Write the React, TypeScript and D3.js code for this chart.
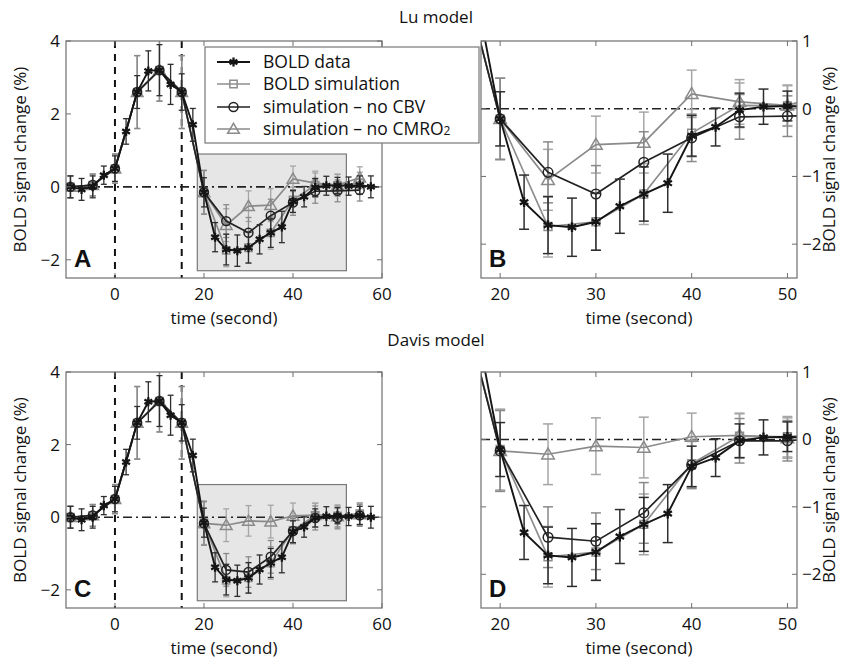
import React from "react";
import * as d3 from "d3";

// BOLD data, sampled every 2.5 s
const dataTimes = [-10, -7.5, -5, -2.5, 0, 2.5, 5, 7.5, 10, 12.5, 15, 17.5, 20, 22.5, 25, 27.5, 30, 32.5, 35, 37.5, 40, 42.5, 45, 47.5, 50, 52.5, 55, 57.5];
const boldData = [0.0, -0.07, 0.0, 0.32, 0.5, 1.52, 2.6, 3.18, 3.2, 2.81, 2.6, 1.7, -0.15, -1.38, -1.72, -1.75, -1.67, -1.44, -1.26, -1.1, -0.4, -0.27, -0.02, 0.03, 0.04, 0.02, 0.05, 0.0];
const boldDataErr = [0.3, 0.3, 0.3, 0.25, 0.35, 0.35, 0.45, 0.55, 0.7, 0.55, 0.5, 0.45, 0.4, 0.4, 0.42, 0.43, 0.42, 0.4, 0.4, 0.43, 0.3, 0.28, 0.25, 0.26, 0.22, 0.25, 0.25, 0.3];

// simulations, sampled every 5 s
const simTimes = [-10, -5, 0, 5, 10, 15, 20, 25, 30, 35, 40, 45, 50, 55];
const boldSim = [0.0, 0.05, 0.5, 2.6, 3.2, 2.6, -0.15, -1.74, -1.67, -1.26, -0.36, 0.05, 0.04, 0.1];
const simErr = [0.3, 0.3, 0.4, 1.0, 0.85, 1.0, 0.6, 0.45, 0.42, 0.45, 0.35, 0.33, 0.3, 0.3];
const luNoCbv = [0.0, 0.05, 0.5, 2.6, 3.2, 2.6, -0.15, -0.94, -1.26, -0.79, -0.43, -0.12, -0.11, -0.09];
const luNoCmro = [0.0, 0.05, 0.5, 2.6, 3.2, 2.6, -0.15, -1.05, -0.53, -0.5, 0.22, 0.1, 0.05, 0.25];
const davisNoCbv = [0.0, 0.05, 0.5, 2.6, 3.2, 2.6, -0.17, -1.45, -1.51, -1.09, -0.38, -0.02, -0.02, 0.05];
const davisNoCmro = [0.0, 0.05, 0.5, 2.6, 3.2, 2.6, -0.17, -0.22, -0.1, -0.12, 0.04, 0.06, 0.02, 0.08];

const fullX = [-11, 60];
const fullY = [-2.5, 4];
const fullXTicks = [0, 20, 40, 60];
const fullYTicks = [-2, 0, 2, 4];
const zoomX = [18, 51];
const zoomY = [-2.5, 1];
const zoomXTicks = [20, 30, 40, 50];
const zoomYTicks = [-2, -1, 0, 1];
const stimLines = [0, 15];
const zoomBox = [18.5, 52, -2.3, 0.9];

const legendLabels = ["BOLD data", "BOLD simulation", "simulation \u2013 no CBV", "simulation \u2013 no CMRO"];

const FONT = "'Open Sans', 'Noto Sans', sans-serif";
const INK = "#111";
const starType = (d3 as any).symbolAsterisk || d3.symbolStar;

type Series = {
  times: number[];
  values: number[];
  err: number[];
  color: string;
  errColor: string;
  marker: string;
  width: number;
};

const markerPath = (kind: string, big: boolean) => {
  const k = big ? 1.1 : 0.95;
  if (kind === "square") return d3.symbol().type(d3.symbolSquare).size(56 * k)()!;
  if (kind === "circle") return d3.symbol().type(d3.symbolCircle).size(66 * k)()!;
  if (kind === "triangle") return d3.symbol().type(d3.symbolTriangle).size(62 * k)()!;
  return d3.symbol().type(starType).size(60 * k)()!;
};

const Marker = ({ kind, x, y, color, big }: any) => (
  <path
    d={markerPath(kind, big)}
    transform={`translate(${x},${kind === "triangle" ? y + 1 : y})`}
    fill="none"
    stroke={color}
    strokeWidth={kind === "star" ? 2.3 : 1.5}
  />
);

const makeSeries = (noCbv: number[], noCmro: number[]): Series[] => [
  { times: simTimes, values: boldSim, err: simErr, color: "#8e8e8e", errColor: "#a6a6a6", marker: "square", width: 1.7 },
  { times: simTimes, values: noCmro, err: simErr, color: "#8a8a8a", errColor: "#a6a6a6", marker: "triangle", width: 1.7 },
  { times: simTimes, values: noCbv, err: simErr, color: "#222", errColor: "#8a8a8a", marker: "circle", width: 1.7 },
  { times: dataTimes, values: boldData, err: boldDataErr, color: "#151515", errColor: "#2e2e2e", marker: "star", width: 1.9 },
];

const Panel = ({ id, left, top, width, height, zoomed, series, letter }: any) => {
  const x = d3.scaleLinear().domain(zoomed ? zoomX : fullX).range([left, left + width]);
  const y = d3.scaleLinear().domain(zoomed ? zoomY : fullY).range([top + height, top]);
  const xTicks = zoomed ? zoomXTicks : fullXTicks;
  const yTicks = zoomed ? zoomYTicks : fullYTicks;
  const cap = zoomed ? 5 : 3;
  const tick = 5;
  const frame = "#6e6e6e";
  return (
    <g>
      <defs>
        <clipPath id={id}>
          <rect x={left} y={top} width={width} height={height} />
        </clipPath>
      </defs>
      <g clipPath={`url(#${id})`}>
        {!zoomed && (
          <rect
            x={x(zoomBox[0])}
            y={y(zoomBox[3])}
            width={x(zoomBox[1]) - x(zoomBox[0])}
            height={y(zoomBox[2]) - y(zoomBox[3])}
            fill="#e6e6e6"
            stroke="#7a7a7a"
            strokeWidth={1.2}
          />
        )}
        {!zoomed &&
          stimLines.map((t) => (
            <line key={t} x1={x(t)} x2={x(t)} y1={top} y2={top + height} stroke="#111" strokeWidth={2} strokeDasharray="7,6" />
          ))}
        <line x1={left} x2={left + width} y1={y(0)} y2={y(0)} stroke="#222" strokeWidth={1.6} strokeDasharray="9,4,2,4" />
        {series.map((s: Series, i: number) => {
          const pts = s.times.map((t, j) => [x(t), y(s.values[j])] as [number, number]);
          return (
            <g key={i}>
              {s.times.map((t, j) => {
                const px = x(t);
                const y1 = y(s.values[j] + s.err[j]);
                const y2 = y(s.values[j] - s.err[j]);
                return (
                  <g key={j} stroke={s.errColor} strokeWidth={zoomed ? 1.5 : 1.3}>
                    <line x1={px} x2={px} y1={y1} y2={y2} />
                    <line x1={px - cap} x2={px + cap} y1={y1} y2={y1} />
                    <line x1={px - cap} x2={px + cap} y1={y2} y2={y2} />
                  </g>
                );
              })}
              <path d={d3.line()(pts)!} fill="none" stroke={s.color} strokeWidth={s.width} />
              {pts.map((p, j) => (
                <Marker key={j} kind={s.marker} x={p[0]} y={p[1]} color={s.color} big={zoomed} />
              ))}
            </g>
          );
        })}
      </g>
      <rect x={left} y={top} width={width} height={height} fill="none" stroke={frame} strokeWidth={1.2} />
      {xTicks.map((t) => (
        <g key={t} stroke={frame} strokeWidth={1}>
          <line x1={x(t)} x2={x(t)} y1={top + height} y2={top + height - tick} />
          <line x1={x(t)} x2={x(t)} y1={top} y2={top + tick} />
        </g>
      ))}
      {yTicks.map((t) => (
        <g key={t} stroke={frame} strokeWidth={1}>
          <line x1={left} x2={left + tick} y1={y(t)} y2={y(t)} />
          <line x1={left + width} x2={left + width - tick} y1={y(t)} y2={y(t)} />
        </g>
      ))}
      {xTicks.map((t) => (
        <text key={t} x={x(t)} y={top + height + 22} textAnchor="middle" fontSize={17} fontFamily={FONT} fill={INK}>
          {t}
        </text>
      ))}
      {yTicks.map((t) => (
        <text
          key={t}
          x={zoomed ? left + width + 5 : left - 6}
          y={y(t) + 6}
          textAnchor={zoomed ? "start" : "end"}
          fontSize={17}
          fontFamily={FONT}
          fill={INK}
        >
          {t < 0 ? `\u2212${-t}` : t}
        </text>
      ))}
      <text x={left + width / 2} y={top + height + 46} textAnchor="middle" fontSize={17} fontFamily={FONT} fill={INK}>
        time (second)
      </text>
      <text
        transform={`translate(${zoomed ? left + width + 38 : left - 40},${top + height / 2}) rotate(-90)`}
        textAnchor="middle"
        fontSize={17}
        fontFamily={FONT}
        fill={INK}
      >
        BOLD signal change (%)
      </text>
      <text x={left + 8} y={top + height - 11} fontSize={24} fontWeight="bold" fontFamily="'Liberation Sans', Arial, sans-serif" fill="#111">
        {letter}
      </text>
    </g>
  );
};

const Legend = () => {
  const styles = makeSeries(luNoCbv, luNoCmro);
  const order = [3, 0, 2, 1];
  const rows = [62, 84, 107, 129];
  return (
    <g>
      <rect x={205} y={47} width={274} height={96} fill="#fff" stroke="#777" strokeWidth={1.2} />
      {order.map((si, i) => {
        const s = styles[si];
        return (
          <g key={i}>
            <line x1={217} x2={250} y1={rows[i]} y2={rows[i]} stroke={s.color} strokeWidth={s.width} />
            <Marker kind={s.marker} x={233.5} y={rows[i]} color={s.color} big={false} />
            <text x={263} y={rows[i] + 6} fontSize={17.5} fontFamily={FONT} fill={INK}>
              {legendLabels[i]}
              {i === 3 && <tspan fontSize={12}>2</tspan>}
            </text>
          </g>
        );
      })}
    </g>
  );
};

export default function App() {
  const lu = makeSeries(luNoCbv, luNoCmro);
  const davis = makeSeries(davisNoCbv, davisNoCmro);
  return (
    <svg width={845} height={663} style={{ position: "absolute", left: 0, top: 0, background: "#fff" }}>
      <text x={436} y={23} textAnchor="middle" fontSize={17} fontFamily={FONT} fill={INK}>
        Lu model
      </text>
      <text x={436} y={346} textAnchor="middle" fontSize={17} fontFamily={FONT} fill={INK}>
        Davis model
      </text>
      <Panel id="clipA" left={66} top={41} width={316} height={237} zoomed={false} series={lu} letter="A" />
      <Panel id="clipB" left={481} top={41} width={316} height={237} zoomed={true} series={lu} letter="B" />
      <Panel id="clipC" left={66} top={372} width={316} height={236} zoomed={false} series={davis} letter="C" />
      <Panel id="clipD" left={481} top={372} width={316} height={236} zoomed={true} series={davis} letter="D" />
      <Legend />
    </svg>
  );
}
